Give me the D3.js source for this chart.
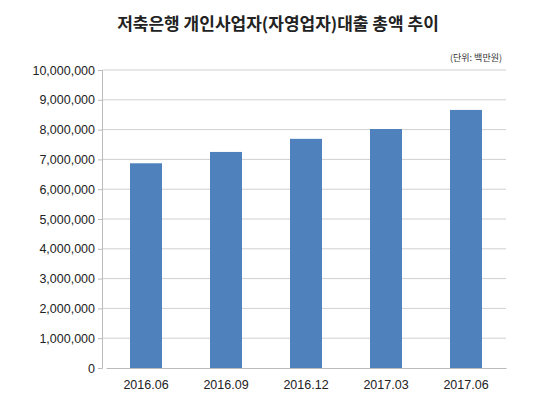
<!DOCTYPE html>
<html><head><meta charset="utf-8">
<script src="https://cdn.jsdelivr.net/npm/d3@7"></script>
<style>body{margin:0;background:#fff}</style>
</head><body>
<script>
const categories = ["2016.06","2016.09","2016.12","2017.03","2017.06"];
const values = [6870000,7250000,7690000,8020000,8660000];
const yTicks = d3.range(0,10000001,1000000);

const W=540,H=412, m={l:104,r:34,t:70,b:44};
const svg=d3.select("body").append("svg").attr("width",W).attr("height",H)
  .style("font-family","'Malgun Gothic','Noto Sans CJK KR',sans-serif");
const x=d3.scaleBand().domain(categories).range([m.l+2,W-m.r]).paddingInner(0.6).paddingOuter(0.3);
const y=d3.scaleLinear().domain([0,10000000]).range([H-m.b,m.t]);

svg.append("text").attr("x",W/2+8).attr("y",30).attr("text-anchor","middle")
  .attr("font-size",17).attr("font-weight","bold").attr("fill","#222")
  .text("저축은행 개인사업자(자영업자)대출 총액 추이");
svg.append("text").attr("x",502).attr("y",61).attr("text-anchor","end")
  .attr("font-size",9).attr("fill","#333").text("(단위: 백만원)");

svg.append("g").selectAll("line").data(yTicks.slice(1)).join("line")
  .attr("x1",m.l-2).attr("x2",W-m.r).attr("y1",d=>y(d)).attr("y2",d=>y(d))
  .attr("stroke","#d0d0d0");

const ya=svg.append("g").attr("transform",`translate(${m.l-2},0)`)
  .call(d3.axisLeft(y).tickValues(yTicks).tickFormat(d3.format(",")).tickSize(4));
ya.selectAll("text").attr("font-size",12.5).attr("fill","#222").attr("font-family","'Liberation Sans',Arial,sans-serif");
ya.selectAll("line,path").attr("stroke","#bbb");

svg.append("g").selectAll("rect").data(values).join("rect")
  .attr("x",(d,i)=>x(categories[i])).attr("width",x.bandwidth())
  .attr("y",d=>y(d)).attr("height",d=>y(0)-y(d)).attr("fill","#4f81bd");

const xa=svg.append("g").attr("transform",`translate(0,${y(0)})`)
  .call(d3.axisBottom(x).tickSize(0).tickPadding(12));
xa.selectAll("text").attr("font-size",12.5).attr("fill","#222").attr("font-family","'Liberation Sans',Arial,sans-serif");
xa.select("path").attr("stroke","#bbb");
</script>
</body></html>
